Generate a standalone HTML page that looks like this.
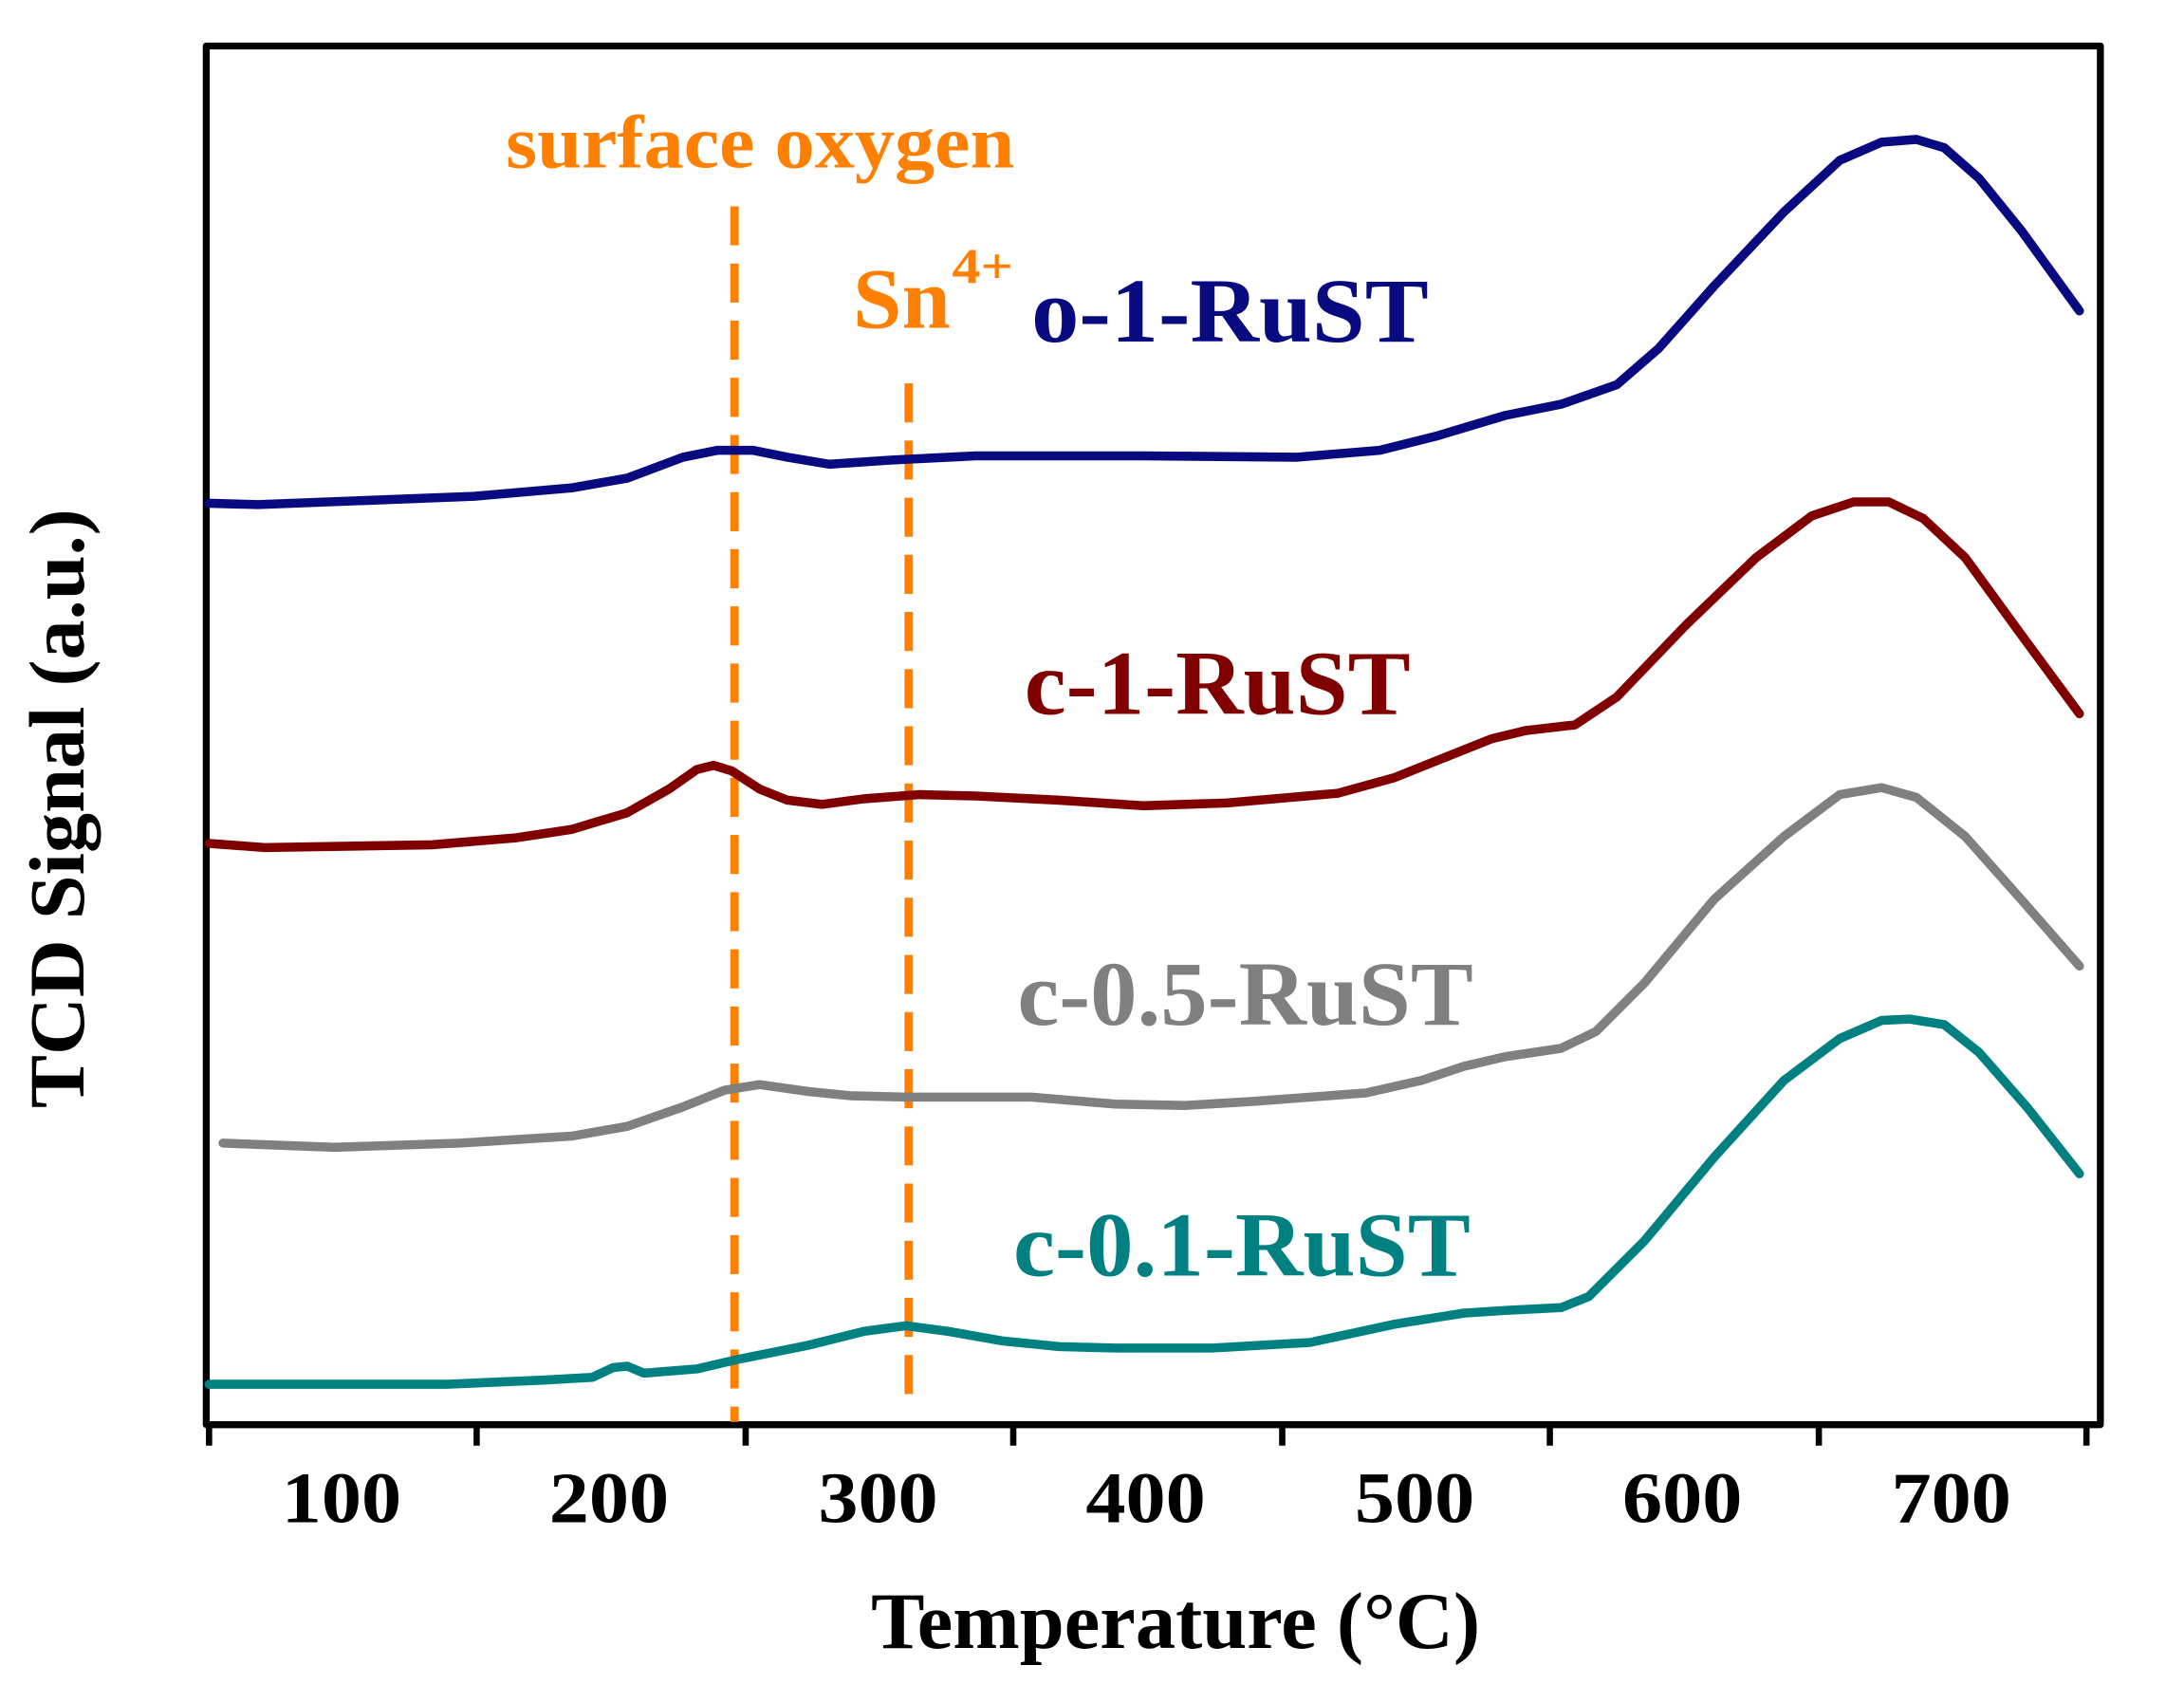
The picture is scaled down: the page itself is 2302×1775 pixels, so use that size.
<!DOCTYPE html>
<html><head><style>html,body{margin:0;padding:0;background:#fff}svg{display:block}text{font-family:"Liberation Serif","Times New Roman",serif;font-weight:bold}</style></head>
<body>
<svg width="2302" height="1775" viewBox="0 0 1567 1208" preserveAspectRatio="none" xmlns="http://www.w3.org/2000/svg">
<rect x="148" y="33" width="1359" height="989" fill="none" stroke="#000" stroke-width="5" stroke-linejoin="round"/>
<g stroke="#000" stroke-width="4.5">
<line x1="150" y1="1022" x2="150" y2="1037"/><line x1="342" y1="1022" x2="342" y2="1037"/><line x1="535" y1="1022" x2="535" y2="1037"/><line x1="727" y1="1022" x2="727" y2="1037"/><line x1="920" y1="1022" x2="920" y2="1037"/><line x1="1112" y1="1022" x2="1112" y2="1037"/><line x1="1305" y1="1022" x2="1305" y2="1037"/><line x1="1497" y1="1022" x2="1497" y2="1037"/>
</g>
<g font-size="52" text-anchor="middle" fill="#000">
<text x="245" y="1092" textLength="86" lengthAdjust="spacingAndGlyphs">100</text>
<text x="437" y="1092" textLength="86" lengthAdjust="spacingAndGlyphs">200</text>
<text x="630" y="1092" textLength="86" lengthAdjust="spacingAndGlyphs">300</text>
<text x="822" y="1092" textLength="86" lengthAdjust="spacingAndGlyphs">400</text>
<text x="1015" y="1092" textLength="86" lengthAdjust="spacingAndGlyphs">500</text>
<text x="1207" y="1092" textLength="86" lengthAdjust="spacingAndGlyphs">600</text>
<text x="1400" y="1092" textLength="86" lengthAdjust="spacingAndGlyphs">700</text>
</g>
<text x="625" y="1182" font-size="58" textLength="437" lengthAdjust="spacingAndGlyphs">Temperature (°C)</text>
<text transform="translate(60,795) rotate(-90)" font-size="56" textLength="430" lengthAdjust="spacingAndGlyphs">TCD Signal (a.u.)</text>
<g stroke="#ff8000" stroke-width="6" stroke-dasharray="28,13" fill="none">
<line x1="527" y1="148" x2="527" y2="1020"/>
<line x1="652" y1="275" x2="652" y2="1010"/>
</g>
<g fill="none" stroke-width="6.5" stroke-linejoin="round" stroke-linecap="round">
<polyline stroke="#0a0a80" points="150,361 185,362 340,356 410,350 450,343 490,328 515,323 540,323 565,328 595,333 640,330 700,327 820,327 930,328 990,323 1030,313 1080,298 1120,290 1160,276 1190,250 1230,205 1280,152 1320,115 1350,102 1375,100 1395,106 1420,128 1450,165 1492,223"/>
<polyline stroke="#800000" points="150,605 190,608 310,606 370,601 410,595 450,583 480,566 500,552 512,549 525,553 545,566 565,574 590,577 620,573 660,570 700,571 760,574 820,578 880,576 960,569 1000,558 1040,542 1070,530 1095,524 1130,520 1160,500 1210,448 1260,400 1300,370 1330,360 1355,360 1380,372 1410,400 1450,455 1492,512"/>
<polyline stroke="#808080" points="160,820 240,823 330,820 410,815 450,808 490,794 520,782 545,778 580,783 610,786 650,787 700,787 740,787 800,792 850,793 900,790 980,784 1020,775 1050,765 1080,758 1120,752 1145,740 1180,705 1230,645 1280,600 1320,570 1350,565 1375,572 1410,600 1450,645 1492,693"/>
<polyline stroke="#008080" points="150,993 320,993 390,990 425,988 440,981 450,980 462,985 500,982 530,975 580,965 620,955 650,951 680,955 720,962 760,966 800,967 870,967 940,963 1000,950 1050,942 1080,940 1120,938 1140,930 1180,890 1230,830 1280,775 1320,745 1350,732 1370,731 1395,735 1420,755 1455,795 1492,842"/>
</g>
<text x="363" y="120" font-size="54" fill="#ff8000" textLength="365" lengthAdjust="spacingAndGlyphs">surface oxygen</text>
<text x="612" y="235" font-size="62" fill="#ff8000" textLength="70" lengthAdjust="spacingAndGlyphs">Sn</text>
<text x="683" y="203" font-size="36" fill="#ff8000" textLength="44" lengthAdjust="spacingAndGlyphs">4+</text>
<text x="740" y="245" font-size="66" fill="#0a0a80" textLength="285" lengthAdjust="spacingAndGlyphs">o-1-RuST</text>
<text x="735" y="512" font-size="66" fill="#800000" textLength="277" lengthAdjust="spacingAndGlyphs">c-1-RuST</text>
<text x="730" y="735" font-size="66" fill="#808080" textLength="327" lengthAdjust="spacingAndGlyphs">c-0.5-RuST</text>
<text x="727" y="915" font-size="66" fill="#008080" textLength="328" lengthAdjust="spacingAndGlyphs">c-0.1-RuST</text>
</svg>
</body></html>
